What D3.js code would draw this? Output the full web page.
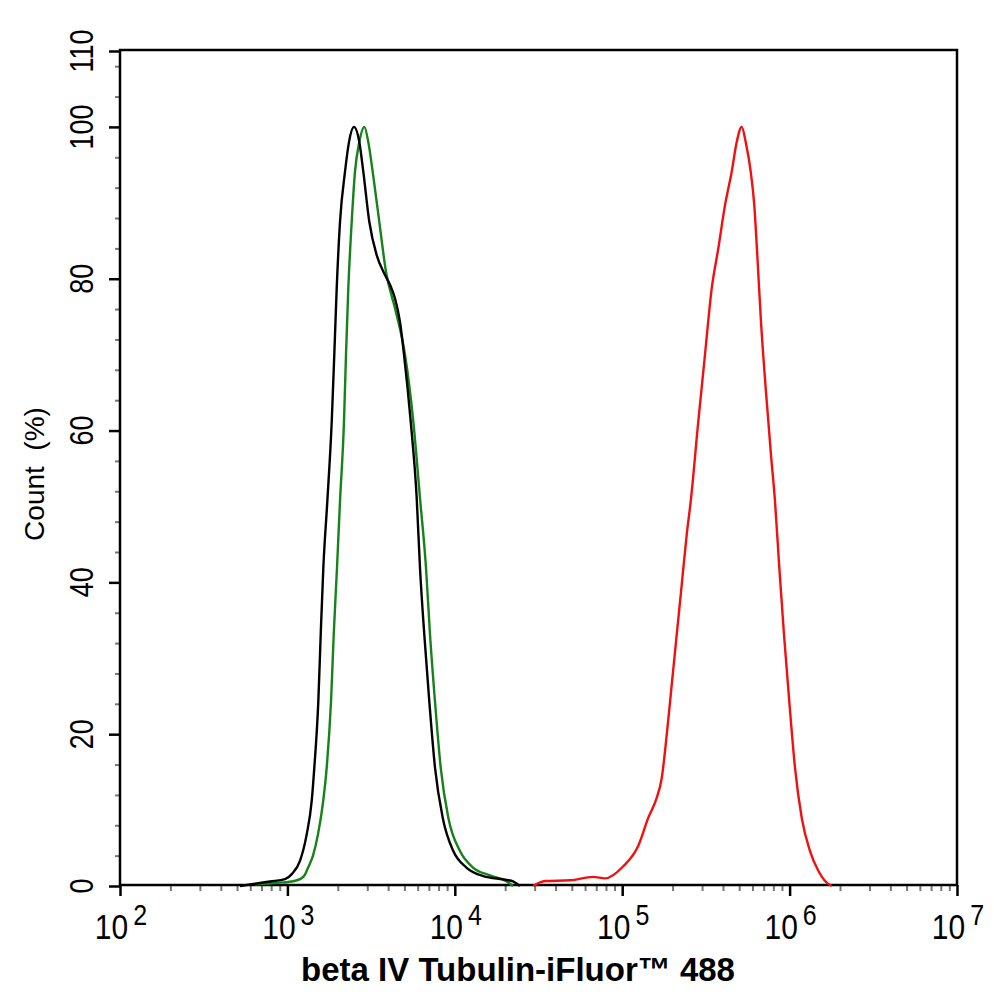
<!DOCTYPE html>
<html><head><meta charset="utf-8">
<script src="https://cdn.jsdelivr.net/npm/d3@7"></script>
<style>body{margin:0;background:#fff} text{font-family:"Liberation Sans",Arial,sans-serif;white-space:pre}</style>
</head><body><svg id="c" width="994" height="1002"></svg>
<script>
// ---- data (fluorescence intensity, count %) ----
const blackX = [521,641,788,968,1065,1189,1304,1397,1448,1530,1581,1639,1732,1840,1906,1970,2062,2209,2333,2499,2689,2841,3085,3415,3828,4102,4394,4706,4973,5452,5921,6196,6574,7043,7616,8468,9795,11780,14800,20420,22270,24520];
const blackY = [0,0.3,0.6,0.9,1.6,3.3,6.8,11.2,15.6,24.3,33.1,41.9,50.7,61.2,70,78.7,87.5,94.1,98,100,98,94.1,87.5,83.1,80.5,79.2,77.4,74.3,70,61.2,51.1,41.9,33.1,24.3,15.6,9.0,4.6,2.4,1.3,0.8,0.6,0];
const greenX = [641,843,1061,1189,1274,1328,1422,1523,1632,1717,1822,1891,1978,2062,2178,2239,2311,2422,2534,2689,2880,3043,3232,3540,3882,4394,5042,5651,6196,6730,7112,7616,8238,9147,10740,12900,16230,20420,22270];
const greenY = [0.2,0.4,0.6,0.9,1.5,2.4,4.0,6.8,11,15.6,24.3,33.1,41.9,50.7,61.2,70,78.7,87.5,94.1,98,100,98,94.1,87.5,80.9,76.1,70,61.2,51.1,41.9,33.1,24.3,15.6,9.0,4.6,2.4,1.4,0.6,0];
const redX = [29430,34580,48780,67210,78960,101500,124800,143200,160700,172200,184500,197600,211700,226800,242900,256700,284800,312300,342400,375100,411300,451000,483100,517500,546700,585600,615200,641200,674800,719700,774200,817900,868000,925800,995900,1077000,1181000,1324000,1484000,1627000,1784000];
const redY = [0,0.65,0.75,1.2,1.0,2.6,5.3,9.0,11.6,14.2,19.9,26.5,33.1,39.7,46.3,50.7,61.2,70,78.7,84,89.7,94.1,98,100,98,94.1,89.7,83.1,74.3,65.6,56.8,50.7,41.9,33.1,24.3,15.6,9.0,4.6,2.0,0.65,0];
const xMajorTicks = [1e2,1e3,1e4,1e5,1e6,1e7];
const xTickExponents = ["2","3","4","5","6","7"];
const yMajorTicks = [0,20,40,60,80,100,110];
const yTickLabels = ["0","20","40","60","80","100","110"];
const xTitle = "beta IV Tubulin-iFluor\u2122 488";
const yTitle = "Count  (%)";

// ---- layout ----
const L = 120, R = 957, T = 50, B = 885;
const svg = d3.select("#c");
const x = d3.scaleLog().domain([1e2, 1e7]).range([L, R]);
const y = d3.scaleLinear().domain([0, 110]).range([B + 1, T + 1]);

// minor ticks
const xMinor = [];
for (let e = 2; e < 7; e++) for (let k = 2; k <= 9; k++) xMinor.push(k * Math.pow(10, e));
const yMinor = d3.range(4, 110, 4).filter(v => v % 20 !== 0);

const gxm = svg.append("g").attr("transform", `translate(0,${B})`)
  .call(d3.axisBottom(x).tickValues(xMinor).tickSize(6).tickFormat(""));
gxm.select(".domain").remove();
gxm.selectAll("line").attr("stroke", "#777").attr("stroke-width", 2);

const gym = svg.append("g").attr("transform", `translate(${L},0)`)
  .call(d3.axisLeft(y).tickValues(yMinor).tickSize(5).tickFormat(""));
gym.select(".domain").remove();
gym.selectAll("line").attr("stroke", "#777").attr("stroke-width", 2);

const gx = svg.append("g").attr("transform", `translate(0,${B})`)
  .call(d3.axisBottom(x).tickValues(xMajorTicks).tickSize(11).tickFormat(""));
gx.select(".domain").remove();
gx.selectAll("line").attr("stroke", "#000").attr("stroke-width", 2.5);

const gy = svg.append("g").attr("transform", `translate(${L},0)`)
  .call(d3.axisLeft(y).tickValues(yMajorTicks).tickSize(11).tickFormat(""));
gy.select(".domain").remove();
gy.selectAll("line").attr("stroke", "#000").attr("stroke-width", 2.5);

// frame
svg.append("rect").attr("x", L).attr("y", T).attr("width", R - L).attr("height", B - T)
  .attr("fill", "none").attr("stroke", "#000").attr("stroke-width", 2.5);

// x tick labels (glyphs slightly stretched vertically, as in the reference)
xMajorTicks.forEach((v, i) => {
  const t = svg.append("text").attr("transform", `translate(${x(v) + 1},939) scale(1,1.15)`)
    .attr("text-anchor", "middle").attr("font-size", 30).attr("fill", "#000");
  t.append("tspan").text("10");
  t.append("tspan").attr("dx", 5).attr("dy", -12).attr("font-size", 25).text(xTickExponents[i]);
});

// y tick labels
yMajorTicks.forEach((v, i) => {
  svg.append("text").attr("transform", `translate(93,${y(v)}) rotate(-90) scale(1,1.2)`)
    .attr("text-anchor", "middle").attr("font-size", 27).attr("fill", "#000").text(yTickLabels[i]);
});

// titles
svg.append("text").attr("x", 518).attr("y", 981).attr("text-anchor", "middle")
  .attr("font-size", 33).attr("font-weight", "bold").attr("fill", "#000").text(xTitle);
svg.append("text").attr("transform", `translate(44,${474}) rotate(-90)`)
  .attr("text-anchor", "middle").attr("font-size", 28).attr("fill", "#000").text(yTitle);

// curves
const line = d3.line().x(d => x(d[0])).y(d => y(d[1])).curve(d3.curveMonotoneX);
const series = [
  {xs: redX, ys: redY, color: "#f01010"},
  {xs: greenX, ys: greenY, color: "#16821a"},
  {xs: blackX, ys: blackY, color: "#000"}
];
series.forEach(s => {
  svg.append("path").datum(s.xs.map((v, i) => [v, s.ys[i]]))
    .attr("d", line).attr("fill", "none").attr("stroke", s.color).attr("stroke-width", 2.4);
});
</script></body></html>
